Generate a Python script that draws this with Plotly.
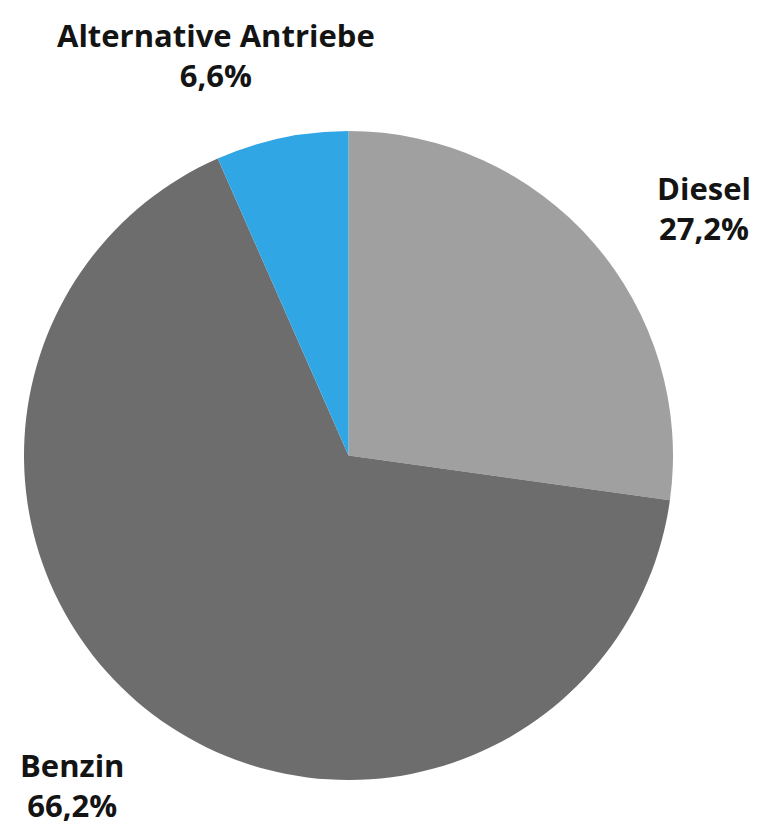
import plotly.graph_objects as go

labels = ["Diesel", "Benzin", "Alternative Antriebe"]
values = [27.2, 66.2, 6.6]
colors = ["#a0a0a0", "#6d6d6d", "#30a6e4"]

W, H = 758, 828

fig = go.Figure(go.Pie(
    labels=labels,
    values=values,
    sort=False,
    direction="clockwise",
    rotation=0,
    marker=dict(colors=colors, line=dict(width=0)),
    textinfo="none",
    hoverinfo="label+percent",
    showlegend=False,
    domain=dict(x=[24 / W, 673 / W], y=[1 - 780 / H, 1 - 131 / H]),
))

label_pos = {
    "Diesel": (704, 208),
    "Benzin": (72, 785),
    "Alternative Antriebe": (216, 55),
}

def fmt(v):
    return f"{v:.1f}".replace(".", ",") + "%"

for lab, val in zip(labels, values):
    px, py = label_pos[lab]
    fig.add_annotation(
        x=px / W, y=1 - py / H, xref="paper", yref="paper",
        text=f"<b>{lab}</b><br><b>{fmt(val)}</b>",
        showarrow=False, xanchor="center", yanchor="middle",
        font=dict(family="Open Sans", size=31, color="#141414"),
        align="center",
    )

fig.update_layout(
    width=W, height=H,
    margin=dict(l=0, r=0, t=0, b=0),
    paper_bgcolor="white",
    plot_bgcolor="white",
)

fig.write_html("out.html")
